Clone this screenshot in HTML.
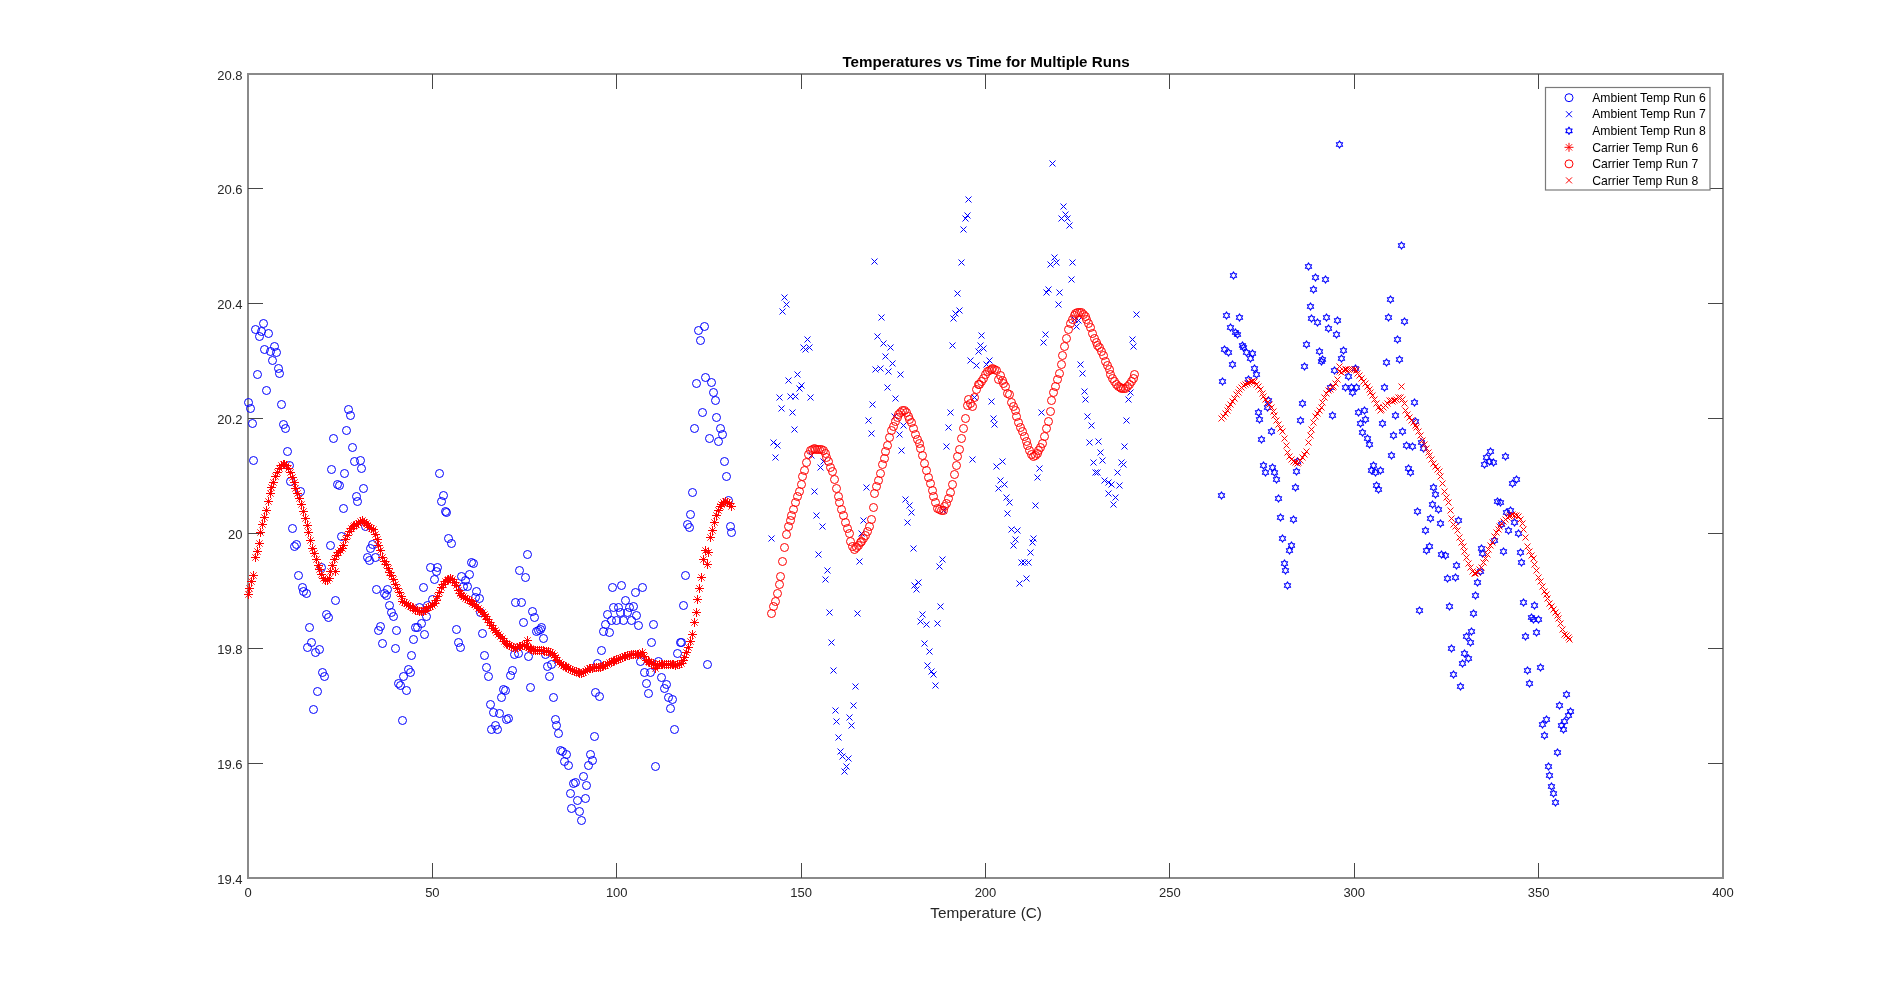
<!DOCTYPE html>
<html><head><meta charset="utf-8"><title>Temperatures vs Time for Multiple Runs</title>
<style>html,body{margin:0;padding:0;background:#fff;}svg{display:block;will-change:transform;}</style></head>
<body>
<svg width="1904" height="987" viewBox="0 0 1904 987">
<defs>
<circle id="mo" r="4" fill="none" stroke-width="1"/>
<path id="mx" d="M-3 -3L3 3M-3 3L3 -3" stroke-width="1"/>
<g id="ms"><path d="M-4.5 0H4.5M0 -4.5V4.5" stroke-width="1"/><path d="M-3.2 -3.2L3.2 3.2M-3.2 3.2L3.2 -3.2" stroke-width="0.9"/></g>
<path id="mh" d="M0.00 -3.65L1.05 -1.82L3.16 -1.82L2.11 -0.00L3.16 1.82L1.05 1.82L0.00 3.65L-1.05 1.83L-3.16 1.82L-2.11 0.00L-3.16 -1.83L-1.05 -1.82Z" fill="none" stroke-width="1.05" stroke-linejoin="round"/>
</defs>
<rect width="1904" height="987" fill="#fff"/>
<rect x="248" y="74" width="1475" height="804" fill="none" stroke="#8a8a8a" stroke-width="2"/>
<path d="M432.5 878V863M432.5 74V89M616.5 878V863M616.5 74V89M801.5 878V863M801.5 74V89M985.5 878V863M985.5 74V89M1169.5 878V863M1169.5 74V89M1354.5 878V863M1354.5 74V89M1538.5 878V863M1538.5 74V89M248 763.5H263M1723 763.5H1708M248 648.5H263M1723 648.5H1708M248 533.5H263M1723 533.5H1708M248 418.5H263M1723 418.5H1708M248 303.5H263M1723 303.5H1708M248 188.5H263M1723 188.5H1708" stroke="#474747" stroke-width="1" fill="none"/>
<g font-family="Liberation Sans, sans-serif" font-size="13" fill="#262626">
<text x="248" y="897" text-anchor="middle">0</text>
<text x="432.38" y="897" text-anchor="middle">50</text>
<text x="616.75" y="897" text-anchor="middle">100</text>
<text x="801.12" y="897" text-anchor="middle">150</text>
<text x="985.5" y="897" text-anchor="middle">200</text>
<text x="1169.88" y="897" text-anchor="middle">250</text>
<text x="1354.25" y="897" text-anchor="middle">300</text>
<text x="1538.62" y="897" text-anchor="middle">350</text>
<text x="1723" y="897" text-anchor="middle">400</text>
<text x="242.5" y="883.5" text-anchor="end">19.4</text>
<text x="242.5" y="768.64" text-anchor="end">19.6</text>
<text x="242.5" y="653.79" text-anchor="end">19.8</text>
<text x="242.5" y="538.93" text-anchor="end">20</text>
<text x="242.5" y="424.07" text-anchor="end">20.2</text>
<text x="242.5" y="309.21" text-anchor="end">20.4</text>
<text x="242.5" y="194.36" text-anchor="end">20.6</text>
<text x="242.5" y="79.5" text-anchor="end">20.8</text>
</g>
<text x="986.1" y="917.7" text-anchor="middle" font-family="Liberation Sans, sans-serif" font-size="15.35" fill="#262626">Temperature (C)</text>
<text x="986" y="66.9" text-anchor="middle" font-family="Liberation Sans, sans-serif" font-size="15.15" font-weight="bold" fill="#000">Temperatures vs Time for Multiple Runs</text>
<g stroke="#0000ff" fill="none"><use href="#mo" x="263.5" y="323.5"/><use href="#mo" x="255.5" y="329.5"/><use href="#mo" x="261.5" y="331.5"/><use href="#mo" x="268.5" y="333.5"/><use href="#mo" x="259.5" y="336.5"/><use href="#mo" x="274.5" y="346.5"/><use href="#mo" x="264.5" y="349.5"/><use href="#mo" x="270.5" y="351.5"/><use href="#mo" x="276.5" y="352.5"/><use href="#mo" x="272.5" y="360.5"/><use href="#mo" x="278.5" y="368.5"/><use href="#mo" x="279.5" y="373.5"/><use href="#mo" x="257.5" y="374.5"/><use href="#mo" x="266.5" y="390.5"/><use href="#mo" x="248.5" y="402.5"/><use href="#mo" x="250.5" y="408.5"/><use href="#mo" x="281.5" y="404.5"/><use href="#mo" x="348.5" y="409.5"/><use href="#mo" x="350.5" y="415.5"/><use href="#mo" x="252.5" y="423.5"/><use href="#mo" x="283.5" y="424.5"/><use href="#mo" x="285.5" y="428.5"/><use href="#mo" x="346.5" y="430.5"/><use href="#mo" x="704.5" y="326.5"/><use href="#mo" x="698.5" y="330.5"/><use href="#mo" x="700.5" y="340.5"/><use href="#mo" x="705.5" y="377.5"/><use href="#mo" x="696.5" y="383.5"/><use href="#mo" x="711.5" y="382.5"/><use href="#mo" x="713.5" y="392.5"/><use href="#mo" x="715.5" y="400.5"/><use href="#mo" x="702.5" y="412.5"/><use href="#mo" x="716.5" y="417.5"/><use href="#mo" x="694.5" y="428.5"/><use href="#mo" x="720.5" y="428.5"/><use href="#mo" x="333.5" y="438.5"/><use href="#mo" x="287.5" y="451.5"/><use href="#mo" x="352.5" y="447.5"/><use href="#mo" x="253.5" y="460.5"/><use href="#mo" x="354.5" y="461.5"/><use href="#mo" x="360.5" y="460.5"/><use href="#mo" x="361.5" y="468.5"/><use href="#mo" x="331.5" y="469.5"/><use href="#mo" x="344.5" y="473.5"/><use href="#mo" x="289.5" y="465.5"/><use href="#mo" x="290.5" y="481.5"/><use href="#mo" x="337.5" y="484.5"/><use href="#mo" x="339.5" y="485.5"/><use href="#mo" x="363.5" y="488.5"/><use href="#mo" x="300.5" y="491.5"/><use href="#mo" x="356.5" y="496.5"/><use href="#mo" x="357.5" y="501.5"/><use href="#mo" x="343.5" y="508.5"/><use href="#mo" x="439.5" y="473.5"/><use href="#mo" x="443.5" y="495.5"/><use href="#mo" x="441.5" y="501.5"/><use href="#mo" x="445.5" y="511.5"/><use href="#mo" x="446.5" y="512.5"/><use href="#mo" x="292.5" y="528.5"/><use href="#mo" x="341.5" y="536.5"/><use href="#mo" x="365.5" y="526.5"/><use href="#mo" x="330.5" y="545.5"/><use href="#mo" x="296.5" y="544.5"/><use href="#mo" x="294.5" y="546.5"/><use href="#mo" x="372.5" y="544.5"/><use href="#mo" x="370.5" y="548.5"/><use href="#mo" x="448.5" y="538.5"/><use href="#mo" x="451.5" y="543.5"/><use href="#mo" x="709.5" y="438.5"/><use href="#mo" x="692.5" y="492.5"/><use href="#mo" x="690.5" y="514.5"/><use href="#mo" x="687.5" y="524.5"/><use href="#mo" x="689.5" y="527.5"/><use href="#mo" x="527.5" y="554.5"/><use href="#mo" x="722.5" y="434.5"/><use href="#mo" x="718.5" y="441.5"/><use href="#mo" x="724.5" y="461.5"/><use href="#mo" x="726.5" y="476.5"/><use href="#mo" x="728.5" y="500.5"/><use href="#mo" x="730.5" y="526.5"/><use href="#mo" x="731.5" y="532.5"/><use href="#mo" x="367.5" y="557.5"/><use href="#mo" x="369.5" y="560.5"/><use href="#mo" x="375.5" y="557.5"/><use href="#mo" x="321.5" y="567.5"/><use href="#mo" x="298.5" y="575.5"/><use href="#mo" x="302.5" y="587.5"/><use href="#mo" x="303.5" y="591.5"/><use href="#mo" x="306.5" y="593.5"/><use href="#mo" x="335.5" y="600.5"/><use href="#mo" x="326.5" y="614.5"/><use href="#mo" x="328.5" y="617.5"/><use href="#mo" x="309.5" y="627.5"/><use href="#mo" x="311.5" y="642.5"/><use href="#mo" x="307.5" y="647.5"/><use href="#mo" x="319.5" y="649.5"/><use href="#mo" x="315.5" y="652.5"/><use href="#mo" x="322.5" y="672.5"/><use href="#mo" x="324.5" y="676.5"/><use href="#mo" x="376.5" y="589.5"/><use href="#mo" x="387.5" y="589.5"/><use href="#mo" x="384.5" y="593.5"/><use href="#mo" x="386.5" y="595.5"/><use href="#mo" x="389.5" y="605.5"/><use href="#mo" x="391.5" y="612.5"/><use href="#mo" x="393.5" y="616.5"/><use href="#mo" x="380.5" y="626.5"/><use href="#mo" x="378.5" y="630.5"/><use href="#mo" x="396.5" y="630.5"/><use href="#mo" x="382.5" y="643.5"/><use href="#mo" x="395.5" y="648.5"/><use href="#mo" x="411.5" y="655.5"/><use href="#mo" x="408.5" y="669.5"/><use href="#mo" x="410.5" y="672.5"/><use href="#mo" x="403.5" y="676.5"/><use href="#mo" x="430.5" y="567.5"/><use href="#mo" x="437.5" y="567.5"/><use href="#mo" x="436.5" y="571.5"/><use href="#mo" x="434.5" y="579.5"/><use href="#mo" x="423.5" y="587.5"/><use href="#mo" x="432.5" y="599.5"/><use href="#mo" x="427.5" y="605.5"/><use href="#mo" x="419.5" y="607.5"/><use href="#mo" x="426.5" y="616.5"/><use href="#mo" x="421.5" y="623.5"/><use href="#mo" x="415.5" y="627.5"/><use href="#mo" x="417.5" y="627.5"/><use href="#mo" x="424.5" y="634.5"/><use href="#mo" x="413.5" y="639.5"/><use href="#mo" x="456.5" y="629.5"/><use href="#mo" x="458.5" y="642.5"/><use href="#mo" x="460.5" y="647.5"/><use href="#mo" x="461.5" y="576.5"/><use href="#mo" x="469.5" y="574.5"/><use href="#mo" x="465.5" y="580.5"/><use href="#mo" x="463.5" y="586.5"/><use href="#mo" x="467.5" y="586.5"/><use href="#mo" x="471.5" y="562.5"/><use href="#mo" x="473.5" y="563.5"/><use href="#mo" x="519.5" y="570.5"/><use href="#mo" x="525.5" y="577.5"/><use href="#mo" x="476.5" y="591.5"/><use href="#mo" x="475.5" y="597.5"/><use href="#mo" x="479.5" y="598.5"/><use href="#mo" x="480.5" y="612.5"/><use href="#mo" x="515.5" y="602.5"/><use href="#mo" x="521.5" y="602.5"/><use href="#mo" x="532.5" y="611.5"/><use href="#mo" x="534.5" y="617.5"/><use href="#mo" x="523.5" y="622.5"/><use href="#mo" x="541.5" y="627.5"/><use href="#mo" x="540.5" y="629.5"/><use href="#mo" x="536.5" y="631.5"/><use href="#mo" x="538.5" y="630.5"/><use href="#mo" x="543.5" y="638.5"/><use href="#mo" x="482.5" y="633.5"/><use href="#mo" x="484.5" y="655.5"/><use href="#mo" x="486.5" y="667.5"/><use href="#mo" x="488.5" y="676.5"/><use href="#mo" x="514.5" y="654.5"/><use href="#mo" x="518.5" y="653.5"/><use href="#mo" x="528.5" y="656.5"/><use href="#mo" x="545.5" y="654.5"/><use href="#mo" x="512.5" y="670.5"/><use href="#mo" x="510.5" y="675.5"/><use href="#mo" x="547.5" y="666.5"/><use href="#mo" x="551.5" y="664.5"/><use href="#mo" x="549.5" y="676.5"/><use href="#mo" x="612.5" y="587.5"/><use href="#mo" x="621.5" y="585.5"/><use href="#mo" x="642.5" y="587.5"/><use href="#mo" x="635.5" y="592.5"/><use href="#mo" x="625.5" y="600.5"/><use href="#mo" x="613.5" y="607.5"/><use href="#mo" x="618.5" y="607.5"/><use href="#mo" x="629.5" y="607.5"/><use href="#mo" x="633.5" y="606.5"/><use href="#mo" x="620.5" y="612.5"/><use href="#mo" x="627.5" y="612.5"/><use href="#mo" x="607.5" y="614.5"/><use href="#mo" x="636.5" y="615.5"/><use href="#mo" x="611.5" y="620.5"/><use href="#mo" x="616.5" y="620.5"/><use href="#mo" x="623.5" y="620.5"/><use href="#mo" x="631.5" y="620.5"/><use href="#mo" x="605.5" y="624.5"/><use href="#mo" x="638.5" y="625.5"/><use href="#mo" x="603.5" y="631.5"/><use href="#mo" x="609.5" y="632.5"/><use href="#mo" x="653.5" y="624.5"/><use href="#mo" x="685.5" y="575.5"/><use href="#mo" x="683.5" y="605.5"/><use href="#mo" x="651.5" y="642.5"/><use href="#mo" x="680.5" y="642.5"/><use href="#mo" x="681.5" y="642.5"/><use href="#mo" x="601.5" y="650.5"/><use href="#mo" x="677.5" y="653.5"/><use href="#mo" x="597.5" y="663.5"/><use href="#mo" x="640.5" y="661.5"/><use href="#mo" x="658.5" y="661.5"/><use href="#mo" x="644.5" y="672.5"/><use href="#mo" x="650.5" y="672.5"/><use href="#mo" x="661.5" y="677.5"/><use href="#mo" x="707.5" y="664.5"/><use href="#mo" x="317.5" y="691.5"/><use href="#mo" x="313.5" y="709.5"/><use href="#mo" x="398.5" y="683.5"/><use href="#mo" x="400.5" y="685.5"/><use href="#mo" x="406.5" y="690.5"/><use href="#mo" x="402.5" y="720.5"/><use href="#mo" x="503.5" y="689.5"/><use href="#mo" x="505.5" y="690.5"/><use href="#mo" x="530.5" y="687.5"/><use href="#mo" x="501.5" y="697.5"/><use href="#mo" x="490.5" y="704.5"/><use href="#mo" x="493.5" y="712.5"/><use href="#mo" x="499.5" y="713.5"/><use href="#mo" x="506.5" y="719.5"/><use href="#mo" x="508.5" y="718.5"/><use href="#mo" x="495.5" y="725.5"/><use href="#mo" x="491.5" y="729.5"/><use href="#mo" x="497.5" y="729.5"/><use href="#mo" x="553.5" y="697.5"/><use href="#mo" x="555.5" y="719.5"/><use href="#mo" x="556.5" y="725.5"/><use href="#mo" x="558.5" y="733.5"/><use href="#mo" x="594.5" y="736.5"/><use href="#mo" x="595.5" y="692.5"/><use href="#mo" x="599.5" y="696.5"/><use href="#mo" x="560.5" y="750.5"/><use href="#mo" x="562.5" y="751.5"/><use href="#mo" x="566.5" y="754.5"/><use href="#mo" x="564.5" y="761.5"/><use href="#mo" x="568.5" y="765.5"/><use href="#mo" x="590.5" y="754.5"/><use href="#mo" x="592.5" y="760.5"/><use href="#mo" x="588.5" y="765.5"/><use href="#mo" x="583.5" y="776.5"/><use href="#mo" x="575.5" y="782.5"/><use href="#mo" x="573.5" y="783.5"/><use href="#mo" x="586.5" y="785.5"/><use href="#mo" x="570.5" y="793.5"/><use href="#mo" x="577.5" y="800.5"/><use href="#mo" x="585.5" y="798.5"/><use href="#mo" x="646.5" y="683.5"/><use href="#mo" x="648.5" y="693.5"/><use href="#mo" x="666.5" y="684.5"/><use href="#mo" x="664.5" y="688.5"/><use href="#mo" x="668.5" y="697.5"/><use href="#mo" x="672.5" y="699.5"/><use href="#mo" x="670.5" y="708.5"/><use href="#mo" x="674.5" y="729.5"/><use href="#mo" x="655.5" y="766.5"/><use href="#mo" x="571.5" y="808.5"/><use href="#mo" x="579.5" y="811.5"/><use href="#mo" x="581.5" y="820.5"/></g>
<g stroke="#0000ff" fill="none"><use href="#mx" x="881.5" y="317.5"/><use href="#mx" x="807.5" y="339.5"/><use href="#mx" x="803.5" y="347.5"/><use href="#mx" x="809.5" y="347.5"/><use href="#mx" x="805.5" y="349.5"/><use href="#mx" x="877.5" y="336.5"/><use href="#mx" x="883.5" y="343.5"/><use href="#mx" x="890.5" y="347.5"/><use href="#mx" x="885.5" y="356.5"/><use href="#mx" x="892.5" y="363.5"/><use href="#mx" x="875.5" y="369.5"/><use href="#mx" x="880.5" y="368.5"/><use href="#mx" x="888.5" y="371.5"/><use href="#mx" x="797.5" y="374.5"/><use href="#mx" x="788.5" y="380.5"/><use href="#mx" x="801.5" y="385.5"/><use href="#mx" x="799.5" y="388.5"/><use href="#mx" x="887.5" y="387.5"/><use href="#mx" x="779.5" y="397.5"/><use href="#mx" x="790.5" y="396.5"/><use href="#mx" x="795.5" y="396.5"/><use href="#mx" x="810.5" y="397.5"/><use href="#mx" x="895.5" y="398.5"/><use href="#mx" x="872.5" y="404.5"/><use href="#mx" x="781.5" y="408.5"/><use href="#mx" x="792.5" y="412.5"/><use href="#mx" x="868.5" y="420.5"/><use href="#mx" x="794.5" y="429.5"/><use href="#mx" x="871.5" y="433.5"/><use href="#mx" x="773.5" y="442.5"/><use href="#mx" x="777.5" y="445.5"/><use href="#mx" x="775.5" y="457.5"/><use href="#mx" x="811.5" y="455.5"/><use href="#mx" x="823.5" y="461.5"/><use href="#mx" x="820.5" y="467.5"/><use href="#mx" x="814.5" y="491.5"/><use href="#mx" x="866.5" y="487.5"/><use href="#mx" x="816.5" y="515.5"/><use href="#mx" x="822.5" y="526.5"/><use href="#mx" x="863.5" y="520.5"/><use href="#mx" x="861.5" y="533.5"/><use href="#mx" x="771.5" y="538.5"/><use href="#mx" x="818.5" y="554.5"/><use href="#mx" x="859.5" y="561.5"/><use href="#mx" x="827.5" y="570.5"/><use href="#mx" x="825.5" y="579.5"/><use href="#mx" x="918.5" y="582.5"/><use href="#mx" x="914.5" y="585.5"/><use href="#mx" x="916.5" y="589.5"/><use href="#mx" x="829.5" y="612.5"/><use href="#mx" x="857.5" y="613.5"/><use href="#mx" x="922.5" y="614.5"/><use href="#mx" x="920.5" y="621.5"/><use href="#mx" x="926.5" y="624.5"/><use href="#mx" x="831.5" y="642.5"/><use href="#mx" x="924.5" y="643.5"/><use href="#mx" x="929.5" y="651.5"/><use href="#mx" x="833.5" y="670.5"/><use href="#mx" x="927.5" y="665.5"/><use href="#mx" x="931.5" y="671.5"/><use href="#mx" x="933.5" y="674.5"/><use href="#mx" x="968.5" y="199.5"/><use href="#mx" x="967.5" y="215.5"/><use href="#mx" x="965.5" y="218.5"/><use href="#mx" x="963.5" y="229.5"/><use href="#mx" x="874.5" y="261.5"/><use href="#mx" x="961.5" y="262.5"/><use href="#mx" x="784.5" y="297.5"/><use href="#mx" x="786.5" y="304.5"/><use href="#mx" x="782.5" y="311.5"/><use href="#mx" x="900.5" y="374.5"/><use href="#mx" x="957.5" y="293.5"/><use href="#mx" x="959.5" y="310.5"/><use href="#mx" x="955.5" y="313.5"/><use href="#mx" x="953.5" y="318.5"/><use href="#mx" x="952.5" y="345.5"/><use href="#mx" x="970.5" y="360.5"/><use href="#mx" x="903.5" y="425.5"/><use href="#mx" x="899.5" y="434.5"/><use href="#mx" x="901.5" y="450.5"/><use href="#mx" x="950.5" y="412.5"/><use href="#mx" x="948.5" y="427.5"/><use href="#mx" x="946.5" y="446.5"/><use href="#mx" x="972.5" y="459.5"/><use href="#mx" x="991.5" y="401.5"/><use href="#mx" x="993.5" y="418.5"/><use href="#mx" x="994.5" y="424.5"/><use href="#mx" x="974.5" y="397.5"/><use href="#mx" x="1002.5" y="461.5"/><use href="#mx" x="996.5" y="466.5"/><use href="#mx" x="1000.5" y="480.5"/><use href="#mx" x="1004.5" y="484.5"/><use href="#mx" x="998.5" y="488.5"/><use href="#mx" x="1006.5" y="497.5"/><use href="#mx" x="1009.5" y="502.5"/><use href="#mx" x="1007.5" y="513.5"/><use href="#mx" x="905.5" y="499.5"/><use href="#mx" x="909.5" y="505.5"/><use href="#mx" x="911.5" y="512.5"/><use href="#mx" x="943.5" y="510.5"/><use href="#mx" x="1041.5" y="412.5"/><use href="#mx" x="1039.5" y="468.5"/><use href="#mx" x="1037.5" y="477.5"/><use href="#mx" x="1035.5" y="505.5"/><use href="#mx" x="1085.5" y="399.5"/><use href="#mx" x="1087.5" y="416.5"/><use href="#mx" x="1091.5" y="425.5"/><use href="#mx" x="1089.5" y="442.5"/><use href="#mx" x="1098.5" y="441.5"/><use href="#mx" x="1100.5" y="452.5"/><use href="#mx" x="1102.5" y="460.5"/><use href="#mx" x="1093.5" y="462.5"/><use href="#mx" x="1095.5" y="472.5"/><use href="#mx" x="1097.5" y="472.5"/><use href="#mx" x="1104.5" y="480.5"/><use href="#mx" x="1108.5" y="482.5"/><use href="#mx" x="1111.5" y="484.5"/><use href="#mx" x="1119.5" y="485.5"/><use href="#mx" x="1117.5" y="472.5"/><use href="#mx" x="1121.5" y="462.5"/><use href="#mx" x="1123.5" y="464.5"/><use href="#mx" x="1124.5" y="446.5"/><use href="#mx" x="1126.5" y="420.5"/><use href="#mx" x="1128.5" y="399.5"/><use href="#mx" x="1108.5" y="493.5"/><use href="#mx" x="1115.5" y="497.5"/><use href="#mx" x="1113.5" y="504.5"/><use href="#mx" x="981.5" y="335.5"/><use href="#mx" x="980.5" y="345.5"/><use href="#mx" x="983.5" y="348.5"/><use href="#mx" x="978.5" y="351.5"/><use href="#mx" x="976.5" y="365.5"/><use href="#mx" x="989.5" y="360.5"/><use href="#mx" x="986.5" y="364.5"/><use href="#mx" x="1071.5" y="279.5"/><use href="#mx" x="1048.5" y="289.5"/><use href="#mx" x="1046.5" y="292.5"/><use href="#mx" x="1059.5" y="292.5"/><use href="#mx" x="1058.5" y="304.5"/><use href="#mx" x="1045.5" y="334.5"/><use href="#mx" x="1043.5" y="342.5"/><use href="#mx" x="1074.5" y="319.5"/><use href="#mx" x="1078.5" y="320.5"/><use href="#mx" x="1076.5" y="326.5"/><use href="#mx" x="1080.5" y="364.5"/><use href="#mx" x="1082.5" y="373.5"/><use href="#mx" x="1084.5" y="391.5"/><use href="#mx" x="1132.5" y="339.5"/><use href="#mx" x="1133.5" y="346.5"/><use href="#mx" x="1130.5" y="392.5"/><use href="#mx" x="1052.5" y="163.5"/><use href="#mx" x="1063.5" y="206.5"/><use href="#mx" x="1065.5" y="214.5"/><use href="#mx" x="1061.5" y="218.5"/><use href="#mx" x="1067.5" y="218.5"/><use href="#mx" x="1069.5" y="225.5"/><use href="#mx" x="1054.5" y="257.5"/><use href="#mx" x="1056.5" y="262.5"/><use href="#mx" x="1050.5" y="264.5"/><use href="#mx" x="1072.5" y="262.5"/><use href="#mx" x="1136.5" y="314.5"/><use href="#mx" x="907.5" y="522.5"/><use href="#mx" x="913.5" y="548.5"/><use href="#mx" x="942.5" y="559.5"/><use href="#mx" x="939.5" y="566.5"/><use href="#mx" x="940.5" y="606.5"/><use href="#mx" x="937.5" y="623.5"/><use href="#mx" x="1011.5" y="529.5"/><use href="#mx" x="1017.5" y="530.5"/><use href="#mx" x="1015.5" y="539.5"/><use href="#mx" x="1013.5" y="545.5"/><use href="#mx" x="1033.5" y="538.5"/><use href="#mx" x="1032.5" y="542.5"/><use href="#mx" x="1030.5" y="552.5"/><use href="#mx" x="1021.5" y="562.5"/><use href="#mx" x="1024.5" y="562.5"/><use href="#mx" x="1028.5" y="562.5"/><use href="#mx" x="1026.5" y="578.5"/><use href="#mx" x="1019.5" y="583.5"/><use href="#mx" x="855.5" y="686.5"/><use href="#mx" x="853.5" y="705.5"/><use href="#mx" x="835.5" y="710.5"/><use href="#mx" x="849.5" y="717.5"/><use href="#mx" x="836.5" y="721.5"/><use href="#mx" x="851.5" y="725.5"/><use href="#mx" x="838.5" y="737.5"/><use href="#mx" x="840.5" y="751.5"/><use href="#mx" x="842.5" y="756.5"/><use href="#mx" x="848.5" y="758.5"/><use href="#mx" x="935.5" y="685.5"/><use href="#mx" x="846.5" y="766.5"/><use href="#mx" x="844.5" y="771.5"/><use href="#mx" x="894.5" y="416.5"/></g>
<g stroke="#0000ff" fill="none"><use href="#mh" x="1233.5" y="275.5"/><use href="#mh" x="1226.5" y="315.5"/><use href="#mh" x="1239.5" y="317.5"/><use href="#mh" x="1230.5" y="327.5"/><use href="#mh" x="1235.5" y="332.5"/><use href="#mh" x="1237.5" y="334.5"/><use href="#mh" x="1242.5" y="345.5"/><use href="#mh" x="1243.5" y="347.5"/><use href="#mh" x="1224.5" y="349.5"/><use href="#mh" x="1228.5" y="352.5"/><use href="#mh" x="1246.5" y="352.5"/><use href="#mh" x="1252.5" y="353.5"/><use href="#mh" x="1250.5" y="358.5"/><use href="#mh" x="1232.5" y="364.5"/><use href="#mh" x="1254.5" y="368.5"/><use href="#mh" x="1256.5" y="374.5"/><use href="#mh" x="1248.5" y="379.5"/><use href="#mh" x="1222.5" y="381.5"/><use href="#mh" x="1339.5" y="144.5"/><use href="#mh" x="1401.5" y="245.5"/><use href="#mh" x="1308.5" y="266.5"/><use href="#mh" x="1315.5" y="277.5"/><use href="#mh" x="1325.5" y="279.5"/><use href="#mh" x="1313.5" y="289.5"/><use href="#mh" x="1310.5" y="306.5"/><use href="#mh" x="1311.5" y="318.5"/><use href="#mh" x="1317.5" y="322.5"/><use href="#mh" x="1326.5" y="317.5"/><use href="#mh" x="1337.5" y="320.5"/><use href="#mh" x="1328.5" y="328.5"/><use href="#mh" x="1336.5" y="334.5"/><use href="#mh" x="1306.5" y="344.5"/><use href="#mh" x="1319.5" y="351.5"/><use href="#mh" x="1322.5" y="359.5"/><use href="#mh" x="1321.5" y="361.5"/><use href="#mh" x="1343.5" y="350.5"/><use href="#mh" x="1341.5" y="358.5"/><use href="#mh" x="1304.5" y="366.5"/><use href="#mh" x="1334.5" y="370.5"/><use href="#mh" x="1355.5" y="368.5"/><use href="#mh" x="1348.5" y="376.5"/><use href="#mh" x="1390.5" y="299.5"/><use href="#mh" x="1388.5" y="317.5"/><use href="#mh" x="1404.5" y="321.5"/><use href="#mh" x="1397.5" y="339.5"/><use href="#mh" x="1399.5" y="359.5"/><use href="#mh" x="1386.5" y="362.5"/><use href="#mh" x="1268.5" y="400.5"/><use href="#mh" x="1267.5" y="407.5"/><use href="#mh" x="1258.5" y="412.5"/><use href="#mh" x="1259.5" y="419.5"/><use href="#mh" x="1271.5" y="431.5"/><use href="#mh" x="1261.5" y="439.5"/><use href="#mh" x="1263.5" y="465.5"/><use href="#mh" x="1265.5" y="472.5"/><use href="#mh" x="1272.5" y="467.5"/><use href="#mh" x="1274.5" y="472.5"/><use href="#mh" x="1276.5" y="479.5"/><use href="#mh" x="1302.5" y="403.5"/><use href="#mh" x="1300.5" y="420.5"/><use href="#mh" x="1297.5" y="461.5"/><use href="#mh" x="1296.5" y="471.5"/><use href="#mh" x="1295.5" y="487.5"/><use href="#mh" x="1221.5" y="495.5"/><use href="#mh" x="1278.5" y="498.5"/><use href="#mh" x="1330.5" y="387.5"/><use href="#mh" x="1332.5" y="415.5"/><use href="#mh" x="1345.5" y="387.5"/><use href="#mh" x="1351.5" y="387.5"/><use href="#mh" x="1356.5" y="387.5"/><use href="#mh" x="1352.5" y="392.5"/><use href="#mh" x="1358.5" y="412.5"/><use href="#mh" x="1364.5" y="410.5"/><use href="#mh" x="1365.5" y="419.5"/><use href="#mh" x="1360.5" y="423.5"/><use href="#mh" x="1362.5" y="432.5"/><use href="#mh" x="1367.5" y="438.5"/><use href="#mh" x="1369.5" y="444.5"/><use href="#mh" x="1373.5" y="465.5"/><use href="#mh" x="1371.5" y="470.5"/><use href="#mh" x="1375.5" y="472.5"/><use href="#mh" x="1380.5" y="470.5"/><use href="#mh" x="1376.5" y="485.5"/><use href="#mh" x="1378.5" y="489.5"/><use href="#mh" x="1384.5" y="387.5"/><use href="#mh" x="1382.5" y="423.5"/><use href="#mh" x="1395.5" y="415.5"/><use href="#mh" x="1393.5" y="435.5"/><use href="#mh" x="1391.5" y="455.5"/><use href="#mh" x="1414.5" y="402.5"/><use href="#mh" x="1415.5" y="421.5"/><use href="#mh" x="1402.5" y="431.5"/><use href="#mh" x="1406.5" y="445.5"/><use href="#mh" x="1412.5" y="446.5"/><use href="#mh" x="1421.5" y="442.5"/><use href="#mh" x="1423.5" y="448.5"/><use href="#mh" x="1408.5" y="468.5"/><use href="#mh" x="1410.5" y="472.5"/><use href="#mh" x="1433.5" y="487.5"/><use href="#mh" x="1435.5" y="494.5"/><use href="#mh" x="1490.5" y="451.5"/><use href="#mh" x="1486.5" y="457.5"/><use href="#mh" x="1489.5" y="461.5"/><use href="#mh" x="1493.5" y="462.5"/><use href="#mh" x="1484.5" y="464.5"/><use href="#mh" x="1505.5" y="456.5"/><use href="#mh" x="1516.5" y="479.5"/><use href="#mh" x="1512.5" y="483.5"/><use href="#mh" x="1280.5" y="517.5"/><use href="#mh" x="1293.5" y="519.5"/><use href="#mh" x="1282.5" y="538.5"/><use href="#mh" x="1291.5" y="545.5"/><use href="#mh" x="1289.5" y="550.5"/><use href="#mh" x="1284.5" y="563.5"/><use href="#mh" x="1285.5" y="570.5"/><use href="#mh" x="1287.5" y="585.5"/><use href="#mh" x="1417.5" y="511.5"/><use href="#mh" x="1432.5" y="504.5"/><use href="#mh" x="1430.5" y="518.5"/><use href="#mh" x="1425.5" y="530.5"/><use href="#mh" x="1429.5" y="546.5"/><use href="#mh" x="1426.5" y="550.5"/><use href="#mh" x="1419.5" y="610.5"/><use href="#mh" x="1438.5" y="509.5"/><use href="#mh" x="1440.5" y="523.5"/><use href="#mh" x="1441.5" y="554.5"/><use href="#mh" x="1445.5" y="555.5"/><use href="#mh" x="1458.5" y="520.5"/><use href="#mh" x="1456.5" y="565.5"/><use href="#mh" x="1455.5" y="577.5"/><use href="#mh" x="1447.5" y="578.5"/><use href="#mh" x="1449.5" y="606.5"/><use href="#mh" x="1481.5" y="548.5"/><use href="#mh" x="1482.5" y="553.5"/><use href="#mh" x="1480.5" y="571.5"/><use href="#mh" x="1477.5" y="582.5"/><use href="#mh" x="1475.5" y="595.5"/><use href="#mh" x="1473.5" y="613.5"/><use href="#mh" x="1497.5" y="501.5"/><use href="#mh" x="1500.5" y="502.5"/><use href="#mh" x="1510.5" y="510.5"/><use href="#mh" x="1506.5" y="512.5"/><use href="#mh" x="1514.5" y="522.5"/><use href="#mh" x="1501.5" y="524.5"/><use href="#mh" x="1508.5" y="530.5"/><use href="#mh" x="1518.5" y="533.5"/><use href="#mh" x="1494.5" y="540.5"/><use href="#mh" x="1503.5" y="551.5"/><use href="#mh" x="1520.5" y="552.5"/><use href="#mh" x="1521.5" y="562.5"/><use href="#mh" x="1523.5" y="602.5"/><use href="#mh" x="1534.5" y="605.5"/><use href="#mh" x="1531.5" y="617.5"/><use href="#mh" x="1533.5" y="619.5"/><use href="#mh" x="1538.5" y="619.5"/><use href="#mh" x="1471.5" y="631.5"/><use href="#mh" x="1466.5" y="636.5"/><use href="#mh" x="1470.5" y="642.5"/><use href="#mh" x="1451.5" y="648.5"/><use href="#mh" x="1464.5" y="653.5"/><use href="#mh" x="1468.5" y="658.5"/><use href="#mh" x="1462.5" y="663.5"/><use href="#mh" x="1453.5" y="674.5"/><use href="#mh" x="1460.5" y="686.5"/><use href="#mh" x="1525.5" y="636.5"/><use href="#mh" x="1536.5" y="632.5"/><use href="#mh" x="1527.5" y="670.5"/><use href="#mh" x="1540.5" y="667.5"/><use href="#mh" x="1529.5" y="683.5"/><use href="#mh" x="1566.5" y="694.5"/><use href="#mh" x="1559.5" y="705.5"/><use href="#mh" x="1570.5" y="711.5"/><use href="#mh" x="1568.5" y="715.5"/><use href="#mh" x="1546.5" y="719.5"/><use href="#mh" x="1542.5" y="724.5"/><use href="#mh" x="1564.5" y="721.5"/><use href="#mh" x="1561.5" y="725.5"/><use href="#mh" x="1563.5" y="729.5"/><use href="#mh" x="1544.5" y="735.5"/><use href="#mh" x="1557.5" y="752.5"/><use href="#mh" x="1548.5" y="766.5"/><use href="#mh" x="1549.5" y="775.5"/><use href="#mh" x="1551.5" y="786.5"/><use href="#mh" x="1553.5" y="793.5"/><use href="#mh" x="1555.5" y="802.5"/></g>
<g stroke="#ff0000" fill="none"><use href="#ms" x="248.5" y="594.5"/><use href="#ms" x="249.5" y="588.5"/><use href="#ms" x="251.5" y="581.5"/><use href="#ms" x="253.5" y="575.5"/><use href="#ms" x="255.5" y="557.5"/><use href="#ms" x="257.5" y="551.5"/><use href="#ms" x="259.5" y="543.5"/><use href="#ms" x="260.5" y="532.5"/><use href="#ms" x="262.5" y="524.5"/><use href="#ms" x="264.5" y="517.5"/><use href="#ms" x="266.5" y="510.5"/><use href="#ms" x="268.5" y="501.5"/><use href="#ms" x="270.5" y="493.5"/><use href="#ms" x="271.5" y="487.5"/><use href="#ms" x="273.5" y="482.5"/><use href="#ms" x="275.5" y="476.5"/><use href="#ms" x="277.5" y="472.5"/><use href="#ms" x="279.5" y="468.5"/><use href="#ms" x="281.5" y="465.5"/><use href="#ms" x="283.5" y="464.5"/><use href="#ms" x="284.5" y="464.5"/><use href="#ms" x="286.5" y="465.5"/><use href="#ms" x="288.5" y="468.5"/><use href="#ms" x="290.5" y="472.5"/><use href="#ms" x="292.5" y="477.5"/><use href="#ms" x="294.5" y="482.5"/><use href="#ms" x="295.5" y="488.5"/><use href="#ms" x="297.5" y="493.5"/><use href="#ms" x="299.5" y="498.5"/><use href="#ms" x="301.5" y="504.5"/><use href="#ms" x="303.5" y="511.5"/><use href="#ms" x="305.5" y="518.5"/><use href="#ms" x="307.5" y="525.5"/><use href="#ms" x="308.5" y="532.5"/><use href="#ms" x="310.5" y="540.5"/><use href="#ms" x="312.5" y="548.5"/><use href="#ms" x="314.5" y="553.5"/><use href="#ms" x="316.5" y="559.5"/><use href="#ms" x="318.5" y="565.5"/><use href="#ms" x="319.5" y="569.5"/><use href="#ms" x="321.5" y="574.5"/><use href="#ms" x="323.5" y="578.5"/><use href="#ms" x="325.5" y="580.5"/><use href="#ms" x="327.5" y="580.5"/><use href="#ms" x="329.5" y="578.5"/><use href="#ms" x="330.5" y="571.5"/><use href="#ms" x="332.5" y="565.5"/><use href="#ms" x="334.5" y="559.5"/><use href="#ms" x="336.5" y="555.5"/><use href="#ms" x="338.5" y="552.5"/><use href="#ms" x="340.5" y="550.5"/><use href="#ms" x="342.5" y="548.5"/><use href="#ms" x="343.5" y="545.5"/><use href="#ms" x="345.5" y="539.5"/><use href="#ms" x="347.5" y="535.5"/><use href="#ms" x="349.5" y="531.5"/><use href="#ms" x="351.5" y="528.5"/><use href="#ms" x="353.5" y="526.5"/><use href="#ms" x="354.5" y="525.5"/><use href="#ms" x="356.5" y="524.5"/><use href="#ms" x="358.5" y="523.5"/><use href="#ms" x="360.5" y="521.5"/><use href="#ms" x="362.5" y="520.5"/><use href="#ms" x="364.5" y="522.5"/><use href="#ms" x="366.5" y="523.5"/><use href="#ms" x="367.5" y="525.5"/><use href="#ms" x="369.5" y="527.5"/><use href="#ms" x="371.5" y="528.5"/><use href="#ms" x="373.5" y="529.5"/><use href="#ms" x="375.5" y="534.5"/><use href="#ms" x="377.5" y="539.5"/><use href="#ms" x="378.5" y="545.5"/><use href="#ms" x="380.5" y="550.5"/><use href="#ms" x="382.5" y="557.5"/><use href="#ms" x="384.5" y="561.5"/><use href="#ms" x="386.5" y="564.5"/><use href="#ms" x="388.5" y="568.5"/><use href="#ms" x="389.5" y="572.5"/><use href="#ms" x="391.5" y="575.5"/><use href="#ms" x="393.5" y="579.5"/><use href="#ms" x="395.5" y="584.5"/><use href="#ms" x="397.5" y="588.5"/><use href="#ms" x="399.5" y="592.5"/><use href="#ms" x="401.5" y="596.5"/><use href="#ms" x="402.5" y="601.5"/><use href="#ms" x="404.5" y="602.5"/><use href="#ms" x="406.5" y="603.5"/><use href="#ms" x="408.5" y="605.5"/><use href="#ms" x="410.5" y="606.5"/><use href="#ms" x="412.5" y="607.5"/><use href="#ms" x="413.5" y="608.5"/><use href="#ms" x="415.5" y="610.5"/><use href="#ms" x="417.5" y="610.5"/><use href="#ms" x="419.5" y="611.5"/><use href="#ms" x="421.5" y="611.5"/><use href="#ms" x="423.5" y="611.5"/><use href="#ms" x="425.5" y="610.5"/><use href="#ms" x="426.5" y="608.5"/><use href="#ms" x="428.5" y="607.5"/><use href="#ms" x="430.5" y="606.5"/><use href="#ms" x="432.5" y="605.5"/><use href="#ms" x="434.5" y="603.5"/><use href="#ms" x="436.5" y="600.5"/><use href="#ms" x="437.5" y="596.5"/><use href="#ms" x="439.5" y="592.5"/><use href="#ms" x="441.5" y="587.5"/><use href="#ms" x="443.5" y="584.5"/><use href="#ms" x="445.5" y="581.5"/><use href="#ms" x="447.5" y="580.5"/><use href="#ms" x="448.5" y="579.5"/><use href="#ms" x="450.5" y="578.5"/><use href="#ms" x="452.5" y="579.5"/><use href="#ms" x="454.5" y="582.5"/><use href="#ms" x="456.5" y="585.5"/><use href="#ms" x="458.5" y="590.5"/><use href="#ms" x="460.5" y="593.5"/><use href="#ms" x="461.5" y="595.5"/><use href="#ms" x="463.5" y="596.5"/><use href="#ms" x="465.5" y="598.5"/><use href="#ms" x="467.5" y="599.5"/><use href="#ms" x="469.5" y="600.5"/><use href="#ms" x="471.5" y="601.5"/><use href="#ms" x="472.5" y="603.5"/><use href="#ms" x="474.5" y="604.5"/><use href="#ms" x="476.5" y="606.5"/><use href="#ms" x="478.5" y="608.5"/><use href="#ms" x="480.5" y="610.5"/><use href="#ms" x="482.5" y="612.5"/><use href="#ms" x="484.5" y="614.5"/><use href="#ms" x="485.5" y="616.5"/><use href="#ms" x="487.5" y="619.5"/><use href="#ms" x="489.5" y="622.5"/><use href="#ms" x="491.5" y="625.5"/><use href="#ms" x="493.5" y="628.5"/><use href="#ms" x="495.5" y="630.5"/><use href="#ms" x="496.5" y="632.5"/><use href="#ms" x="498.5" y="634.5"/><use href="#ms" x="500.5" y="636.5"/><use href="#ms" x="502.5" y="638.5"/><use href="#ms" x="504.5" y="641.5"/><use href="#ms" x="506.5" y="643.5"/><use href="#ms" x="507.5" y="644.5"/><use href="#ms" x="509.5" y="645.5"/><use href="#ms" x="511.5" y="646.5"/><use href="#ms" x="513.5" y="647.5"/><use href="#ms" x="515.5" y="648.5"/><use href="#ms" x="517.5" y="647.5"/><use href="#ms" x="519.5" y="646.5"/><use href="#ms" x="520.5" y="646.5"/><use href="#ms" x="522.5" y="645.5"/><use href="#ms" x="524.5" y="645.5"/><use href="#ms" x="526.5" y="646.5"/><use href="#ms" x="528.5" y="647.5"/><use href="#ms" x="530.5" y="648.5"/><use href="#ms" x="531.5" y="649.5"/><use href="#ms" x="533.5" y="650.5"/><use href="#ms" x="535.5" y="650.5"/><use href="#ms" x="537.5" y="650.5"/><use href="#ms" x="539.5" y="650.5"/><use href="#ms" x="541.5" y="650.5"/><use href="#ms" x="543.5" y="650.5"/><use href="#ms" x="544.5" y="651.5"/><use href="#ms" x="546.5" y="651.5"/><use href="#ms" x="548.5" y="651.5"/><use href="#ms" x="550.5" y="652.5"/><use href="#ms" x="552.5" y="653.5"/><use href="#ms" x="554.5" y="655.5"/><use href="#ms" x="555.5" y="657.5"/><use href="#ms" x="557.5" y="660.5"/><use href="#ms" x="559.5" y="662.5"/><use href="#ms" x="561.5" y="664.5"/><use href="#ms" x="563.5" y="665.5"/><use href="#ms" x="565.5" y="666.5"/><use href="#ms" x="566.5" y="667.5"/><use href="#ms" x="568.5" y="668.5"/><use href="#ms" x="570.5" y="669.5"/><use href="#ms" x="572.5" y="670.5"/><use href="#ms" x="574.5" y="671.5"/><use href="#ms" x="576.5" y="671.5"/><use href="#ms" x="578.5" y="672.5"/><use href="#ms" x="579.5" y="673.5"/><use href="#ms" x="581.5" y="673.5"/><use href="#ms" x="583.5" y="672.5"/><use href="#ms" x="585.5" y="671.5"/><use href="#ms" x="587.5" y="669.5"/><use href="#ms" x="589.5" y="668.5"/><use href="#ms" x="590.5" y="668.5"/><use href="#ms" x="592.5" y="668.5"/><use href="#ms" x="594.5" y="667.5"/><use href="#ms" x="596.5" y="667.5"/><use href="#ms" x="598.5" y="667.5"/><use href="#ms" x="600.5" y="667.5"/><use href="#ms" x="602.5" y="666.5"/><use href="#ms" x="603.5" y="665.5"/><use href="#ms" x="605.5" y="665.5"/><use href="#ms" x="607.5" y="664.5"/><use href="#ms" x="609.5" y="662.5"/><use href="#ms" x="611.5" y="662.5"/><use href="#ms" x="613.5" y="661.5"/><use href="#ms" x="614.5" y="660.5"/><use href="#ms" x="616.5" y="659.5"/><use href="#ms" x="618.5" y="659.5"/><use href="#ms" x="620.5" y="658.5"/><use href="#ms" x="622.5" y="657.5"/><use href="#ms" x="624.5" y="656.5"/><use href="#ms" x="625.5" y="656.5"/><use href="#ms" x="627.5" y="655.5"/><use href="#ms" x="629.5" y="655.5"/><use href="#ms" x="631.5" y="654.5"/><use href="#ms" x="633.5" y="654.5"/><use href="#ms" x="635.5" y="654.5"/><use href="#ms" x="637.5" y="654.5"/><use href="#ms" x="638.5" y="654.5"/><use href="#ms" x="640.5" y="654.5"/><use href="#ms" x="642.5" y="652.5"/><use href="#ms" x="644.5" y="656.5"/><use href="#ms" x="646.5" y="660.5"/><use href="#ms" x="648.5" y="661.5"/><use href="#ms" x="649.5" y="662.5"/><use href="#ms" x="651.5" y="663.5"/><use href="#ms" x="653.5" y="663.5"/><use href="#ms" x="655.5" y="664.5"/><use href="#ms" x="657.5" y="665.5"/><use href="#ms" x="659.5" y="664.5"/><use href="#ms" x="661.5" y="664.5"/><use href="#ms" x="662.5" y="664.5"/><use href="#ms" x="664.5" y="664.5"/><use href="#ms" x="666.5" y="664.5"/><use href="#ms" x="668.5" y="664.5"/><use href="#ms" x="670.5" y="664.5"/><use href="#ms" x="672.5" y="664.5"/><use href="#ms" x="673.5" y="664.5"/><use href="#ms" x="675.5" y="665.5"/><use href="#ms" x="677.5" y="664.5"/><use href="#ms" x="679.5" y="664.5"/><use href="#ms" x="681.5" y="663.5"/><use href="#ms" x="683.5" y="660.5"/><use href="#ms" x="684.5" y="657.5"/><use href="#ms" x="686.5" y="652.5"/><use href="#ms" x="688.5" y="647.5"/><use href="#ms" x="690.5" y="641.5"/><use href="#ms" x="692.5" y="634.5"/><use href="#ms" x="694.5" y="622.5"/><use href="#ms" x="696.5" y="612.5"/><use href="#ms" x="697.5" y="599.5"/><use href="#ms" x="699.5" y="588.5"/><use href="#ms" x="701.5" y="577.5"/><use href="#ms" x="703.5" y="559.5"/><use href="#ms" x="705.5" y="550.5"/><use href="#ms" x="707.5" y="564.5"/><use href="#ms" x="708.5" y="552.5"/><use href="#ms" x="710.5" y="537.5"/><use href="#ms" x="712.5" y="530.5"/><use href="#ms" x="714.5" y="522.5"/><use href="#ms" x="716.5" y="515.5"/><use href="#ms" x="718.5" y="510.5"/><use href="#ms" x="720.5" y="506.5"/><use href="#ms" x="721.5" y="504.5"/><use href="#ms" x="723.5" y="502.5"/><use href="#ms" x="725.5" y="501.5"/><use href="#ms" x="727.5" y="502.5"/><use href="#ms" x="729.5" y="503.5"/><use href="#ms" x="731.5" y="506.5"/><use href="#ms" x="335.5" y="571.5"/><use href="#ms" x="527.5" y="640.5"/><use href="#ms" x="655.5" y="668.5"/></g>
<g stroke="#ff0000" fill="none"><use href="#mo" x="771.5" y="613.5"/><use href="#mo" x="773.5" y="606.5"/><use href="#mo" x="775.5" y="601.5"/><use href="#mo" x="777.5" y="593.5"/><use href="#mo" x="779.5" y="584.5"/><use href="#mo" x="780.5" y="576.5"/><use href="#mo" x="782.5" y="561.5"/><use href="#mo" x="784.5" y="547.5"/><use href="#mo" x="786.5" y="534.5"/><use href="#mo" x="788.5" y="526.5"/><use href="#mo" x="790.5" y="520.5"/><use href="#mo" x="791.5" y="515.5"/><use href="#mo" x="793.5" y="509.5"/><use href="#mo" x="795.5" y="502.5"/><use href="#mo" x="797.5" y="496.5"/><use href="#mo" x="799.5" y="491.5"/><use href="#mo" x="801.5" y="484.5"/><use href="#mo" x="802.5" y="476.5"/><use href="#mo" x="804.5" y="470.5"/><use href="#mo" x="806.5" y="462.5"/><use href="#mo" x="808.5" y="454.5"/><use href="#mo" x="810.5" y="450.5"/><use href="#mo" x="812.5" y="449.5"/><use href="#mo" x="814.5" y="448.5"/><use href="#mo" x="815.5" y="449.5"/><use href="#mo" x="817.5" y="449.5"/><use href="#mo" x="819.5" y="449.5"/><use href="#mo" x="821.5" y="449.5"/><use href="#mo" x="823.5" y="450.5"/><use href="#mo" x="825.5" y="453.5"/><use href="#mo" x="826.5" y="457.5"/><use href="#mo" x="828.5" y="461.5"/><use href="#mo" x="830.5" y="467.5"/><use href="#mo" x="832.5" y="471.5"/><use href="#mo" x="834.5" y="479.5"/><use href="#mo" x="836.5" y="488.5"/><use href="#mo" x="838.5" y="496.5"/><use href="#mo" x="839.5" y="502.5"/><use href="#mo" x="841.5" y="509.5"/><use href="#mo" x="843.5" y="515.5"/><use href="#mo" x="845.5" y="522.5"/><use href="#mo" x="847.5" y="528.5"/><use href="#mo" x="849.5" y="533.5"/><use href="#mo" x="850.5" y="541.5"/><use href="#mo" x="852.5" y="546.5"/><use href="#mo" x="854.5" y="549.5"/><use href="#mo" x="856.5" y="547.5"/><use href="#mo" x="858.5" y="545.5"/><use href="#mo" x="860.5" y="542.5"/><use href="#mo" x="861.5" y="541.5"/><use href="#mo" x="863.5" y="538.5"/><use href="#mo" x="865.5" y="535.5"/><use href="#mo" x="867.5" y="531.5"/><use href="#mo" x="869.5" y="526.5"/><use href="#mo" x="871.5" y="519.5"/><use href="#mo" x="873.5" y="507.5"/><use href="#mo" x="874.5" y="493.5"/><use href="#mo" x="876.5" y="486.5"/><use href="#mo" x="878.5" y="480.5"/><use href="#mo" x="880.5" y="473.5"/><use href="#mo" x="882.5" y="464.5"/><use href="#mo" x="884.5" y="458.5"/><use href="#mo" x="885.5" y="451.5"/><use href="#mo" x="887.5" y="445.5"/><use href="#mo" x="889.5" y="437.5"/><use href="#mo" x="891.5" y="430.5"/><use href="#mo" x="893.5" y="426.5"/><use href="#mo" x="895.5" y="421.5"/><use href="#mo" x="897.5" y="417.5"/><use href="#mo" x="898.5" y="414.5"/><use href="#mo" x="900.5" y="412.5"/><use href="#mo" x="902.5" y="410.5"/><use href="#mo" x="904.5" y="410.5"/><use href="#mo" x="906.5" y="412.5"/><use href="#mo" x="908.5" y="416.5"/><use href="#mo" x="909.5" y="419.5"/><use href="#mo" x="911.5" y="422.5"/><use href="#mo" x="913.5" y="428.5"/><use href="#mo" x="915.5" y="434.5"/><use href="#mo" x="917.5" y="439.5"/><use href="#mo" x="919.5" y="443.5"/><use href="#mo" x="920.5" y="448.5"/><use href="#mo" x="922.5" y="455.5"/><use href="#mo" x="924.5" y="463.5"/><use href="#mo" x="926.5" y="470.5"/><use href="#mo" x="928.5" y="477.5"/><use href="#mo" x="930.5" y="483.5"/><use href="#mo" x="932.5" y="490.5"/><use href="#mo" x="933.5" y="496.5"/><use href="#mo" x="935.5" y="502.5"/><use href="#mo" x="937.5" y="508.5"/><use href="#mo" x="939.5" y="509.5"/><use href="#mo" x="941.5" y="510.5"/><use href="#mo" x="943.5" y="510.5"/><use href="#mo" x="944.5" y="506.5"/><use href="#mo" x="946.5" y="503.5"/><use href="#mo" x="948.5" y="498.5"/><use href="#mo" x="950.5" y="492.5"/><use href="#mo" x="952.5" y="484.5"/><use href="#mo" x="954.5" y="474.5"/><use href="#mo" x="956.5" y="465.5"/><use href="#mo" x="957.5" y="456.5"/><use href="#mo" x="959.5" y="449.5"/><use href="#mo" x="961.5" y="438.5"/><use href="#mo" x="963.5" y="428.5"/><use href="#mo" x="965.5" y="418.5"/><use href="#mo" x="967.5" y="405.5"/><use href="#mo" x="968.5" y="399.5"/><use href="#mo" x="970.5" y="403.5"/><use href="#mo" x="972.5" y="406.5"/><use href="#mo" x="974.5" y="397.5"/><use href="#mo" x="976.5" y="389.5"/><use href="#mo" x="978.5" y="384.5"/><use href="#mo" x="979.5" y="384.5"/><use href="#mo" x="981.5" y="381.5"/><use href="#mo" x="983.5" y="378.5"/><use href="#mo" x="985.5" y="374.5"/><use href="#mo" x="987.5" y="371.5"/><use href="#mo" x="989.5" y="370.5"/><use href="#mo" x="991.5" y="369.5"/><use href="#mo" x="992.5" y="368.5"/><use href="#mo" x="994.5" y="369.5"/><use href="#mo" x="996.5" y="370.5"/><use href="#mo" x="998.5" y="379.5"/><use href="#mo" x="1000.5" y="375.5"/><use href="#mo" x="1002.5" y="380.5"/><use href="#mo" x="1003.5" y="383.5"/><use href="#mo" x="1005.5" y="386.5"/><use href="#mo" x="1007.5" y="393.5"/><use href="#mo" x="1009.5" y="394.5"/><use href="#mo" x="1011.5" y="402.5"/><use href="#mo" x="1013.5" y="406.5"/><use href="#mo" x="1015.5" y="410.5"/><use href="#mo" x="1016.5" y="416.5"/><use href="#mo" x="1018.5" y="422.5"/><use href="#mo" x="1020.5" y="427.5"/><use href="#mo" x="1022.5" y="431.5"/><use href="#mo" x="1024.5" y="436.5"/><use href="#mo" x="1026.5" y="441.5"/><use href="#mo" x="1027.5" y="445.5"/><use href="#mo" x="1029.5" y="450.5"/><use href="#mo" x="1031.5" y="454.5"/><use href="#mo" x="1033.5" y="456.5"/><use href="#mo" x="1035.5" y="455.5"/><use href="#mo" x="1037.5" y="453.5"/><use href="#mo" x="1038.5" y="450.5"/><use href="#mo" x="1040.5" y="447.5"/><use href="#mo" x="1042.5" y="443.5"/><use href="#mo" x="1044.5" y="436.5"/><use href="#mo" x="1046.5" y="428.5"/><use href="#mo" x="1048.5" y="421.5"/><use href="#mo" x="1050.5" y="411.5"/><use href="#mo" x="1051.5" y="400.5"/><use href="#mo" x="1053.5" y="392.5"/><use href="#mo" x="1055.5" y="386.5"/><use href="#mo" x="1057.5" y="379.5"/><use href="#mo" x="1059.5" y="373.5"/><use href="#mo" x="1061.5" y="364.5"/><use href="#mo" x="1062.5" y="355.5"/><use href="#mo" x="1064.5" y="346.5"/><use href="#mo" x="1066.5" y="338.5"/><use href="#mo" x="1068.5" y="329.5"/><use href="#mo" x="1070.5" y="323.5"/><use href="#mo" x="1072.5" y="319.5"/><use href="#mo" x="1074.5" y="315.5"/><use href="#mo" x="1075.5" y="313.5"/><use href="#mo" x="1077.5" y="312.5"/><use href="#mo" x="1079.5" y="312.5"/><use href="#mo" x="1081.5" y="312.5"/><use href="#mo" x="1083.5" y="314.5"/><use href="#mo" x="1085.5" y="316.5"/><use href="#mo" x="1086.5" y="319.5"/><use href="#mo" x="1088.5" y="323.5"/><use href="#mo" x="1090.5" y="327.5"/><use href="#mo" x="1092.5" y="333.5"/><use href="#mo" x="1094.5" y="338.5"/><use href="#mo" x="1096.5" y="342.5"/><use href="#mo" x="1097.5" y="345.5"/><use href="#mo" x="1099.5" y="347.5"/><use href="#mo" x="1101.5" y="351.5"/><use href="#mo" x="1103.5" y="355.5"/><use href="#mo" x="1105.5" y="361.5"/><use href="#mo" x="1107.5" y="365.5"/><use href="#mo" x="1109.5" y="369.5"/><use href="#mo" x="1110.5" y="374.5"/><use href="#mo" x="1112.5" y="378.5"/><use href="#mo" x="1114.5" y="381.5"/><use href="#mo" x="1116.5" y="384.5"/><use href="#mo" x="1118.5" y="386.5"/><use href="#mo" x="1120.5" y="387.5"/><use href="#mo" x="1121.5" y="388.5"/><use href="#mo" x="1123.5" y="388.5"/><use href="#mo" x="1125.5" y="388.5"/><use href="#mo" x="1127.5" y="386.5"/><use href="#mo" x="1129.5" y="384.5"/><use href="#mo" x="1131.5" y="381.5"/><use href="#mo" x="1133.5" y="378.5"/><use href="#mo" x="1134.5" y="374.5"/></g>
<g stroke="#ff0000" fill="none"><use href="#mx" x="1221.5" y="418.5"/><use href="#mx" x="1223.5" y="416.5"/><use href="#mx" x="1225.5" y="413.5"/><use href="#mx" x="1227.5" y="410.5"/><use href="#mx" x="1228.5" y="407.5"/><use href="#mx" x="1230.5" y="404.5"/><use href="#mx" x="1232.5" y="401.5"/><use href="#mx" x="1234.5" y="398.5"/><use href="#mx" x="1236.5" y="394.5"/><use href="#mx" x="1238.5" y="392.5"/><use href="#mx" x="1239.5" y="389.5"/><use href="#mx" x="1241.5" y="387.5"/><use href="#mx" x="1243.5" y="385.5"/><use href="#mx" x="1245.5" y="384.5"/><use href="#mx" x="1247.5" y="383.5"/><use href="#mx" x="1249.5" y="382.5"/><use href="#mx" x="1251.5" y="381.5"/><use href="#mx" x="1252.5" y="381.5"/><use href="#mx" x="1254.5" y="381.5"/><use href="#mx" x="1256.5" y="384.5"/><use href="#mx" x="1258.5" y="386.5"/><use href="#mx" x="1260.5" y="389.5"/><use href="#mx" x="1262.5" y="393.5"/><use href="#mx" x="1263.5" y="396.5"/><use href="#mx" x="1265.5" y="399.5"/><use href="#mx" x="1267.5" y="402.5"/><use href="#mx" x="1269.5" y="404.5"/><use href="#mx" x="1271.5" y="407.5"/><use href="#mx" x="1273.5" y="411.5"/><use href="#mx" x="1274.5" y="415.5"/><use href="#mx" x="1276.5" y="420.5"/><use href="#mx" x="1278.5" y="424.5"/><use href="#mx" x="1280.5" y="428.5"/><use href="#mx" x="1282.5" y="431.5"/><use href="#mx" x="1284.5" y="438.5"/><use href="#mx" x="1286.5" y="445.5"/><use href="#mx" x="1287.5" y="452.5"/><use href="#mx" x="1289.5" y="456.5"/><use href="#mx" x="1291.5" y="459.5"/><use href="#mx" x="1293.5" y="461.5"/><use href="#mx" x="1295.5" y="462.5"/><use href="#mx" x="1297.5" y="463.5"/><use href="#mx" x="1298.5" y="462.5"/><use href="#mx" x="1300.5" y="460.5"/><use href="#mx" x="1302.5" y="457.5"/><use href="#mx" x="1304.5" y="454.5"/><use href="#mx" x="1306.5" y="451.5"/><use href="#mx" x="1308.5" y="442.5"/><use href="#mx" x="1310.5" y="435.5"/><use href="#mx" x="1311.5" y="429.5"/><use href="#mx" x="1313.5" y="422.5"/><use href="#mx" x="1315.5" y="416.5"/><use href="#mx" x="1317.5" y="413.5"/><use href="#mx" x="1319.5" y="410.5"/><use href="#mx" x="1321.5" y="407.5"/><use href="#mx" x="1322.5" y="402.5"/><use href="#mx" x="1324.5" y="397.5"/><use href="#mx" x="1326.5" y="393.5"/><use href="#mx" x="1328.5" y="390.5"/><use href="#mx" x="1330.5" y="389.5"/><use href="#mx" x="1332.5" y="387.5"/><use href="#mx" x="1333.5" y="386.5"/><use href="#mx" x="1335.5" y="383.5"/><use href="#mx" x="1337.5" y="379.5"/><use href="#mx" x="1339.5" y="371.5"/><use href="#mx" x="1341.5" y="372.5"/><use href="#mx" x="1343.5" y="370.5"/><use href="#mx" x="1345.5" y="369.5"/><use href="#mx" x="1346.5" y="369.5"/><use href="#mx" x="1348.5" y="369.5"/><use href="#mx" x="1350.5" y="369.5"/><use href="#mx" x="1352.5" y="369.5"/><use href="#mx" x="1354.5" y="369.5"/><use href="#mx" x="1356.5" y="370.5"/><use href="#mx" x="1357.5" y="373.5"/><use href="#mx" x="1359.5" y="375.5"/><use href="#mx" x="1361.5" y="378.5"/><use href="#mx" x="1363.5" y="381.5"/><use href="#mx" x="1365.5" y="383.5"/><use href="#mx" x="1367.5" y="386.5"/><use href="#mx" x="1369.5" y="389.5"/><use href="#mx" x="1370.5" y="392.5"/><use href="#mx" x="1372.5" y="395.5"/><use href="#mx" x="1374.5" y="399.5"/><use href="#mx" x="1376.5" y="403.5"/><use href="#mx" x="1378.5" y="407.5"/><use href="#mx" x="1380.5" y="410.5"/><use href="#mx" x="1381.5" y="409.5"/><use href="#mx" x="1383.5" y="407.5"/><use href="#mx" x="1385.5" y="405.5"/><use href="#mx" x="1387.5" y="403.5"/><use href="#mx" x="1389.5" y="400.5"/><use href="#mx" x="1391.5" y="400.5"/><use href="#mx" x="1392.5" y="401.5"/><use href="#mx" x="1394.5" y="400.5"/><use href="#mx" x="1396.5" y="399.5"/><use href="#mx" x="1398.5" y="397.5"/><use href="#mx" x="1400.5" y="397.5"/><use href="#mx" x="1402.5" y="399.5"/><use href="#mx" x="1404.5" y="403.5"/><use href="#mx" x="1405.5" y="410.5"/><use href="#mx" x="1407.5" y="414.5"/><use href="#mx" x="1409.5" y="417.5"/><use href="#mx" x="1411.5" y="420.5"/><use href="#mx" x="1413.5" y="422.5"/><use href="#mx" x="1415.5" y="425.5"/><use href="#mx" x="1416.5" y="427.5"/><use href="#mx" x="1418.5" y="431.5"/><use href="#mx" x="1420.5" y="435.5"/><use href="#mx" x="1422.5" y="440.5"/><use href="#mx" x="1424.5" y="444.5"/><use href="#mx" x="1426.5" y="448.5"/><use href="#mx" x="1428.5" y="452.5"/><use href="#mx" x="1429.5" y="455.5"/><use href="#mx" x="1431.5" y="459.5"/><use href="#mx" x="1433.5" y="463.5"/><use href="#mx" x="1435.5" y="466.5"/><use href="#mx" x="1437.5" y="469.5"/><use href="#mx" x="1439.5" y="471.5"/><use href="#mx" x="1440.5" y="476.5"/><use href="#mx" x="1442.5" y="483.5"/><use href="#mx" x="1444.5" y="491.5"/><use href="#mx" x="1446.5" y="497.5"/><use href="#mx" x="1448.5" y="502.5"/><use href="#mx" x="1450.5" y="510.5"/><use href="#mx" x="1451.5" y="518.5"/><use href="#mx" x="1453.5" y="524.5"/><use href="#mx" x="1455.5" y="526.5"/><use href="#mx" x="1457.5" y="530.5"/><use href="#mx" x="1459.5" y="537.5"/><use href="#mx" x="1461.5" y="542.5"/><use href="#mx" x="1463.5" y="546.5"/><use href="#mx" x="1464.5" y="551.5"/><use href="#mx" x="1466.5" y="557.5"/><use href="#mx" x="1468.5" y="563.5"/><use href="#mx" x="1470.5" y="567.5"/><use href="#mx" x="1472.5" y="571.5"/><use href="#mx" x="1474.5" y="573.5"/><use href="#mx" x="1475.5" y="573.5"/><use href="#mx" x="1477.5" y="572.5"/><use href="#mx" x="1479.5" y="569.5"/><use href="#mx" x="1481.5" y="567.5"/><use href="#mx" x="1483.5" y="562.5"/><use href="#mx" x="1485.5" y="558.5"/><use href="#mx" x="1487.5" y="554.5"/><use href="#mx" x="1488.5" y="549.5"/><use href="#mx" x="1490.5" y="545.5"/><use href="#mx" x="1492.5" y="542.5"/><use href="#mx" x="1494.5" y="536.5"/><use href="#mx" x="1496.5" y="532.5"/><use href="#mx" x="1498.5" y="529.5"/><use href="#mx" x="1499.5" y="526.5"/><use href="#mx" x="1501.5" y="523.5"/><use href="#mx" x="1503.5" y="521.5"/><use href="#mx" x="1505.5" y="519.5"/><use href="#mx" x="1507.5" y="517.5"/><use href="#mx" x="1509.5" y="516.5"/><use href="#mx" x="1510.5" y="515.5"/><use href="#mx" x="1512.5" y="514.5"/><use href="#mx" x="1514.5" y="515.5"/><use href="#mx" x="1516.5" y="515.5"/><use href="#mx" x="1518.5" y="516.5"/><use href="#mx" x="1520.5" y="519.5"/><use href="#mx" x="1522.5" y="523.5"/><use href="#mx" x="1523.5" y="529.5"/><use href="#mx" x="1525.5" y="537.5"/><use href="#mx" x="1527.5" y="546.5"/><use href="#mx" x="1529.5" y="551.5"/><use href="#mx" x="1531.5" y="555.5"/><use href="#mx" x="1533.5" y="558.5"/><use href="#mx" x="1534.5" y="564.5"/><use href="#mx" x="1536.5" y="570.5"/><use href="#mx" x="1538.5" y="577.5"/><use href="#mx" x="1540.5" y="581.5"/><use href="#mx" x="1542.5" y="586.5"/><use href="#mx" x="1544.5" y="591.5"/><use href="#mx" x="1546.5" y="594.5"/><use href="#mx" x="1547.5" y="598.5"/><use href="#mx" x="1549.5" y="603.5"/><use href="#mx" x="1551.5" y="606.5"/><use href="#mx" x="1553.5" y="609.5"/><use href="#mx" x="1555.5" y="612.5"/><use href="#mx" x="1557.5" y="615.5"/><use href="#mx" x="1558.5" y="618.5"/><use href="#mx" x="1560.5" y="623.5"/><use href="#mx" x="1562.5" y="629.5"/><use href="#mx" x="1564.5" y="634.5"/><use href="#mx" x="1566.5" y="635.5"/><use href="#mx" x="1568.5" y="637.5"/><use href="#mx" x="1569.5" y="639.5"/><use href="#mx" x="1401.5" y="386.5"/><use href="#mx" x="1339.5" y="366.5"/></g>
<rect x="1545.5" y="87.5" width="164.5" height="102.5" fill="#fff" stroke="#7a7a7a" stroke-width="1.2"/>
<use href="#mo" x="1569" y="97.7" stroke="#0000ff" fill="none"/>
<text x="1592.2" y="101.9" font-family="Liberation Sans, sans-serif" font-size="12.2" fill="#000">Ambient Temp Run 6</text>
<use href="#mx" x="1569" y="114.24" stroke="#0000ff" fill="none"/>
<text x="1592.2" y="118.44" font-family="Liberation Sans, sans-serif" font-size="12.2" fill="#000">Ambient Temp Run 7</text>
<use href="#mh" x="1569" y="130.78" stroke="#0000ff" fill="none"/>
<text x="1592.2" y="134.98" font-family="Liberation Sans, sans-serif" font-size="12.2" fill="#000">Ambient Temp Run 8</text>
<use href="#ms" x="1569" y="147.32" stroke="#ff0000" fill="none"/>
<text x="1592.2" y="151.52" font-family="Liberation Sans, sans-serif" font-size="12.2" fill="#000">Carrier Temp Run 6</text>
<use href="#mo" x="1569" y="163.86" stroke="#ff0000" fill="none"/>
<text x="1592.2" y="168.06" font-family="Liberation Sans, sans-serif" font-size="12.2" fill="#000">Carrier Temp Run 7</text>
<use href="#mx" x="1569" y="180.4" stroke="#ff0000" fill="none"/>
<text x="1592.2" y="184.6" font-family="Liberation Sans, sans-serif" font-size="12.2" fill="#000">Carrier Temp Run 8</text>
</svg>
</body></html>
